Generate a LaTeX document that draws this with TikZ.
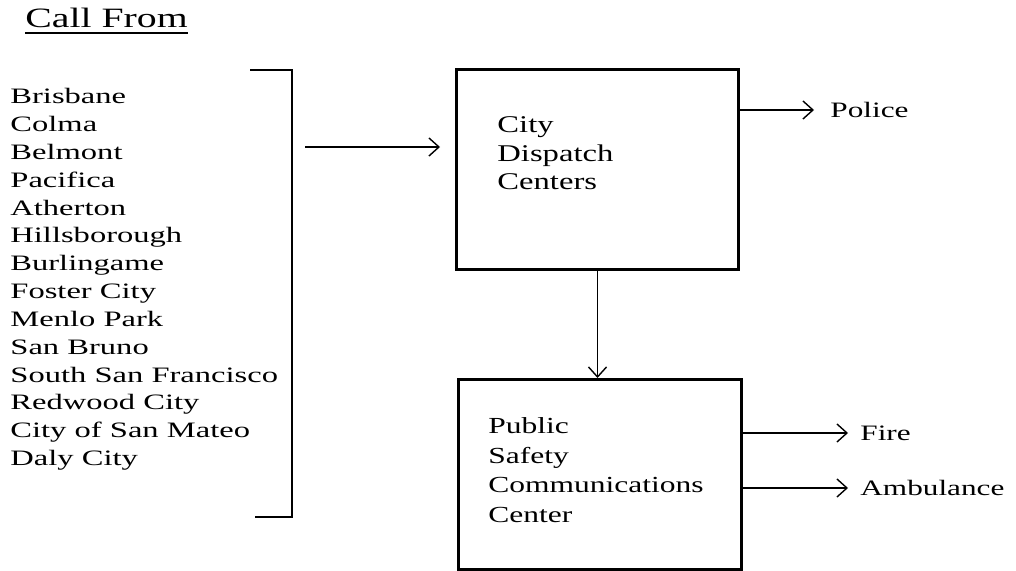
\documentclass[tikz,border=0pt]{standalone}
\usepackage{fontspec}
\setmainfont{Liberation Serif}
\newfontfamily\listfont{Liberation Serif}[FakeStretch=1.48]
\newfontfamily\boxafont{Liberation Serif}[FakeStretch=1.36]
\newfontfamily\boxbfont{Liberation Serif}[FakeStretch=1.37]
\newfontfamily\midfont{Liberation Serif}[FakeStretch=1.42]
\usetikzlibrary{arrows.meta}
\begin{document}
\begin{tikzpicture}[x=0.5pt,y=-0.5pt,
  conn/.style={line width=0.7pt,-{Straight Barb[length=5pt,width=9pt,line width=0.7pt]}},
  boxnode/.style={draw,line width=1.5pt,inner sep=0pt,anchor=north west},
  city/.style={inner sep=0pt,anchor=base west,font=\listfont\fontsize{11}{12}\selectfont},
  lbla/.style={inner sep=0pt,anchor=base west,font=\boxafont\fontsize{12}{13}\selectfont},
  lbl/.style={inner sep=0pt,anchor=base west,font=\boxbfont\fontsize{11.5}{13}\selectfont},
  outlbl/.style={inner sep=0pt,anchor=west,font=\midfont\fontsize{11}{13}\selectfont},
  ]
\useasboundingbox (0,0) rectangle (1016,571);
% title
\node[inner sep=0pt,anchor=base west,font=\midfont\fontsize{14}{16}\selectfont] (title) at (25,28) {Call From};
\draw[line width=0.7pt] ([yshift=-2.5pt]title.base west) -- ([yshift=-2.5pt]title.base east);
% city list
\foreach \t [count=\i] in {Brisbane,Colma,Belmont,Pacifica,Atherton,Hillsborough,Burlingame,Foster City,Menlo Park,San Bruno,South San Francisco,Redwood City,City of San Mateo,Daly City}
  \node[city] (c\i) at (10,{104+(\i-1)*27.8}) {\t};
% bracket
\coordinate (bt) at (250,70);
\coordinate (bb) at (255,517);
\coordinate (bx) at (292,0);
\draw[line width=1pt] (bt) -- (bt -| bx) -- (bb -| bx) -- (bb);
% boxes
\node[boxnode,minimum width=141pt,minimum height=100pt] (b1) at (455,68) {};
\node[boxnode,minimum width=141.5pt,minimum height=95pt] (b2) at (457,378) {};
% box texts
\node[lbla] (t1) at (497,133) {City};
\node[lbla] (t2) at (497,162) {Dispatch};
\node[lbla] (t3) at (497,190) {Centers};
\node[lbl] (u1) at (488,433) {Public};
\node[lbl] (u2) at (488,463) {Safety};
\node[lbl] (u3) at (488,492) {Communications};
\node[lbl] (u4) at (488,522) {Center};
% outputs
\node[outlbl] (police) at (830,110) {Police};
\node[outlbl] (fire) at (860,433) {Fire};
\node[outlbl] (amb) at (860,488) {Ambulance};
% connectors
\coordinate (ain) at (305,147);
\draw[conn,shorten >=7.5pt] (ain) -- (ain -| b1.west);
\draw[conn,shorten >=8pt] (police.west -| b1.east) -- (police.west);
\draw[conn] (b1.south) -- (b1.south |- b2.north);
\draw[conn,shorten >=6pt] (fire.west -| b2.east) -- (fire.west);
\draw[conn,shorten >=6pt] (amb.west -| b2.east) -- (amb.west);
\end{tikzpicture}
\end{document}
